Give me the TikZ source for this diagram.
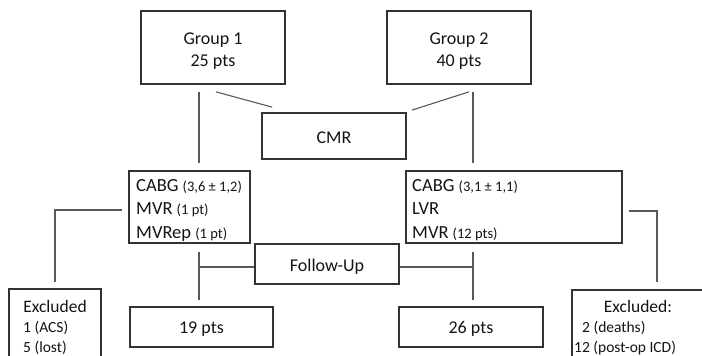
\documentclass[tikz,border=0pt]{standalone}
\usepackage{fontspec}
\setmainfont{Carlito}
\begin{document}
\begin{tikzpicture}[x=1pt,y=-1pt,
  box/.style={draw=black!80, line width=1.7pt, inner sep=0pt, fill=white},
  conn/.style={draw=black!65, line width=1.1pt},
  txt/.style={inner sep=0pt, text=black!92, font=\fontsize{18}{22}\selectfont},
  mid/.style={inner sep=0pt, text=black!92, font=\fontsize{18.5}{22}\selectfont},
  exc/.style={inner sep=0pt, text=black!92, font=\fontsize{15.5}{18}\selectfont},
  exh/.style={inner sep=0pt, text=black!92, font=\fontsize{17.5}{20}\selectfont}]
\newcommand{\sm}[1]{{\fontsize{14.5}{16}\selectfont #1}}
\useasboundingbox (0,0) rectangle (702,356);
\fill[white] (0,0) rectangle (702,356);
\clip (0,0) rectangle (702,356);

% boxes
\node[box, minimum width=144pt, minimum height=73pt] (g1) at (213,47.5) {};
\node[box, minimum width=144pt, minimum height=73pt] (g2) at (459,47.5) {};
\node[box, minimum width=144pt, minimum height=46pt] (cmr) at (334,136) {};
\node[box, minimum width=121pt, minimum height=72pt] (lm) at (189.5,207) {};
\node[box, minimum width=216pt, minimum height=72pt] (rm) at (514,207) {};
\node[box, minimum width=144pt, minimum height=40pt] (fu) at (327,264) {};
\node[box, minimum width=143pt, minimum height=40pt] (p19) at (201.5,327) {};
\node[box, minimum width=144pt, minimum height=40pt] (p26) at (471,327) {};
\node[box, minimum width=92pt, minimum height=81pt] (exl) at (55,329.5) {};
\node[box, minimum width=148pt, minimum height=80pt] (exr) at (646,330) {};

% texts
\node[txt, anchor=base] (g1a) at (213,44) {Group 1};
\node[txt, anchor=base] (g1b) at (213,66) {25 pts};
\node[txt, anchor=base] (g2a) at (459,44) {Group 2};
\node[txt, anchor=base] (g2b) at (459,66) {40 pts};
\node[txt, anchor=base] (cmrt) at (334,143) {CMR};
\node[mid, anchor=base west] (lm1) at (136,191) {CABG \sm{(3,6 ± 1,2)}};
\node[mid, anchor=base west] (lm2) at (136,214) {MVR \sm{(1 pt)}};
\node[mid, anchor=base west] (lm3) at (136,238) {MVRep \sm{(1 pt)}};
\node[mid, anchor=base west] (rm1) at (412,191) {CABG \sm{(3,1 ± 1,1)}};
\node[mid, anchor=base west] (rm2) at (412,214) {LVR};
\node[mid, anchor=base west] (rm3) at (412,238) {MVR \sm{(12 pts)}};
\node[txt, anchor=base] (fut) at (327,271) {Follow-Up};
\node[txt, anchor=base] (p19t) at (201.5,333) {19 pts};
\node[txt, anchor=base] (p26t) at (471,333) {26 pts};
\node[exh, anchor=base] (exl0) at (55,312) {Excluded};
\node[exc, anchor=base west] (exl1) at (23,332) {1 (ACS)};
\node[exc, anchor=base west] (exl2) at (23,352) {5 (lost)};
\node[exh, anchor=base] (exr0) at (638,312.5) {Excluded:};
\node[exc, anchor=base west] (exr1) at (582,332) {2 (deaths)};
\node[exc, anchor=base west] (exr2) at (574,352) {12 (post-op ICD)};

% connectors
\coordinate (xl) at (199,0);
\coordinate (xr) at (473,0);
\draw[conn] ([yshift=-7pt]g1.south -| xl) -- ([yshift=7pt]lm.north -| xl);
\draw[conn] ([yshift=-7pt]g2.south -| xr) -- ([yshift=7pt]rm.north -| xr);
\draw[conn] ([xshift=3pt,yshift=-7pt]g1.south) -- ([xshift=11pt,yshift=5pt]cmr.north west);
\draw[conn] ([xshift=10pt,yshift=-7pt]g2.south) -- ([xshift=5pt,yshift=2pt]cmr.north east);
\draw[conn] ([xshift=-6pt,yshift=-3pt]lm.west) -| ([yshift=6pt]exl.north);
\draw[conn] ([xshift=6pt,yshift=-4pt]rm.east) -| ([xshift=11pt,yshift=7pt]exr.north);
\draw[conn] ([yshift=-8pt]lm.south -| xl) -- ([yshift=6pt]p19.north -| xl);
\draw[conn] ([yshift=-8pt]rm.south -| xr) -- ([yshift=6pt]p26.north -| xr);
\draw[conn] ([yshift=-3pt]fu.west) -- ([yshift=-3pt]fu.west -| xl);
\draw[conn] ([yshift=-3pt]fu.east) -- ([yshift=-3pt]fu.east -| xr);
\end{tikzpicture}
\end{document}
